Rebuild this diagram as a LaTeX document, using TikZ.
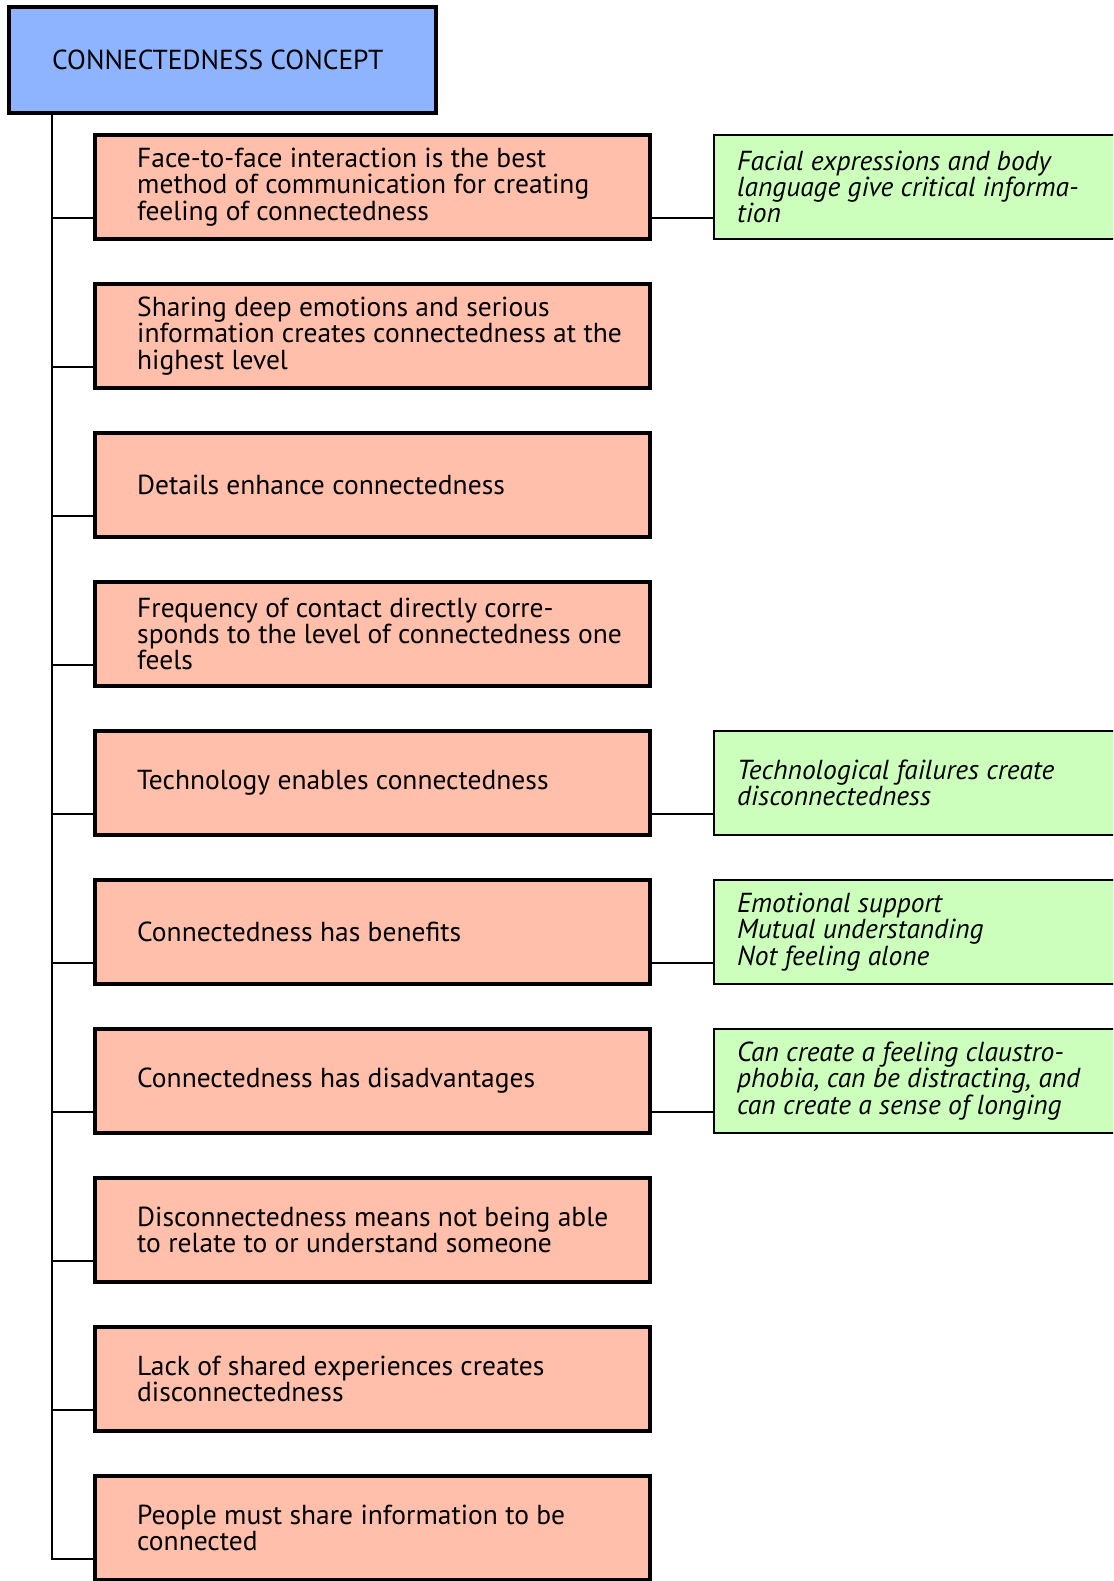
\documentclass[tikz,border=0pt]{standalone}
\usepackage{fontspec}
\setmainfont{PT Sans}
\definecolor{conceptblue}{RGB}{143,180,255}
\definecolor{ideapink}{RGB}{255,191,170}
\definecolor{notegreen}{RGB}{204,255,187}

\begin{document}
\begin{tikzpicture}[x=1pt,y=-1pt,font=\fontsize{27.5}{26.2}\selectfont,
  concept/.style={draw,line width=4pt,fill=conceptblue,minimum width=427pt,minimum height=106pt,anchor=north west,inner sep=0pt,outer sep=0pt},
  idea/.style={draw,line width=4pt,fill=ideapink,minimum width=555pt,minimum height=104pt,anchor=north west,inner sep=0pt,outer sep=0pt},
  note/.style={draw,line width=2pt,fill=notegreen,minimum width=420pt,minimum height=104pt,anchor=north west,inner sep=0pt,outer sep=0pt},
  txt/.style={anchor=west,align=left,inner sep=0pt},
  notetxt/.style={txt,font=\fontsize{27.5}{26.2}\selectfont\itshape},
  link/.style={line width=2pt}]
\useasboundingbox (0,0) rectangle (1113,1581);
\clip (0,0) rectangle (1113,1581);

\node[concept] (concept) at (9,7) {};
\node[txt] (tc) at ([xshift=43pt]concept.west) {CONNECTEDNESS CONCEPT};

\node[idea] (b1) at (95,135) {};
\node[idea] (b2) at (95,284) {};
\node[idea] (b3) at (95,433) {};
\node[idea] (b4) at (95,582) {};
\node[idea] (b5) at (95,731) {};
\node[idea] (b6) at (95,880) {};
\node[idea] (b7) at (95,1029) {};
\node[idea] (b8) at (95,1178) {};
\node[idea] (b9) at (95,1327) {};
\node[idea] (b10) at (95,1476) {};

\node[note] (n1) at (714,135) {};
\node[note] (n5) at (714,731) {};
\node[note] (n6) at (714,880) {};
\node[note] (n7) at (714,1029) {};

% trunk
\draw[link] ([xshift=43pt]concept.south west) |- ([yshift=-31pt]b10.west);
\draw[link] ([yshift=-31pt]b1.west) -- ++(-43,0);
\draw[link] ([yshift=-31pt]b2.west) -- ++(-43,0);
\draw[link] ([yshift=-31pt]b3.west) -- ++(-43,0);
\draw[link] ([yshift=-31pt]b4.west) -- ++(-43,0);
\draw[link] ([yshift=-31pt]b5.west) -- ++(-43,0);
\draw[link] ([yshift=-31pt]b6.west) -- ++(-43,0);
\draw[link] ([yshift=-31pt]b7.west) -- ++(-43,0);
\draw[link] ([yshift=-31pt]b8.west) -- ++(-43,0);
\draw[link] ([yshift=-31pt]b9.west) -- ++(-43,0);

\draw[link] ([yshift=-31pt]b1.east) -- ([yshift=-31pt]n1.west);
\draw[link] ([yshift=-31pt]b5.east) -- ([yshift=-31pt]n5.west);
\draw[link] ([yshift=-31pt]b6.east) -- ([yshift=-31pt]n6.west);
\draw[link] ([yshift=-31pt]b7.east) -- ([yshift=-31pt]n7.west);

\node[txt] (t1) at ([xshift=42pt]b1.west) {Face-to-face interaction is the best\\method of communication for creating\\feeling of connectedness};
\node[txt] (t2) at ([xshift=42pt]b2.west) {Sharing deep emotions and serious\\information creates connectedness at the\\highest level};
\node[txt] (t3) at ([xshift=42pt]b3.west) {Details enhance connectedness};
\node[txt] (t4) at ([xshift=42pt]b4.west) {Frequency of contact directly corre-\\sponds to the level of connectedness one\\feels};
\node[txt] (t5) at ([xshift=42pt]b5.west) {Technology enables connectedness};
\node[txt] (t6) at ([xshift=42pt]b6.west) {Connectedness has benefits};
\node[txt] (t7) at ([xshift=42pt]b7.west) {Connectedness has disadvantages};
\node[txt] (t8) at ([xshift=42pt]b8.west) {Disconnectedness means not being able\\to relate to or understand someone};
\node[txt] (t9) at ([xshift=42pt]b9.west) {Lack of shared experiences creates\\disconnectedness};
\node[txt] (t10) at ([xshift=42pt]b10.west) {People must share information to be\\connected};

\node[notetxt] (m1) at ([xshift=23pt]n1.west) {Facial expressions and body\\language give critical informa-\\tion};
\node[notetxt] (m5) at ([xshift=23pt]n5.west) {Technological failures create\\disconnectedness};
\node[notetxt] (m6) at ([xshift=23pt]n6.west) {Emotional support\\Mutual understanding\\Not feeling alone};
\node[notetxt] (m7) at ([xshift=23pt]n7.west) {Can create a feeling claustro-\\phobia, can be distracting, and\\can create a sense of longing};
\end{tikzpicture}
\end{document}
